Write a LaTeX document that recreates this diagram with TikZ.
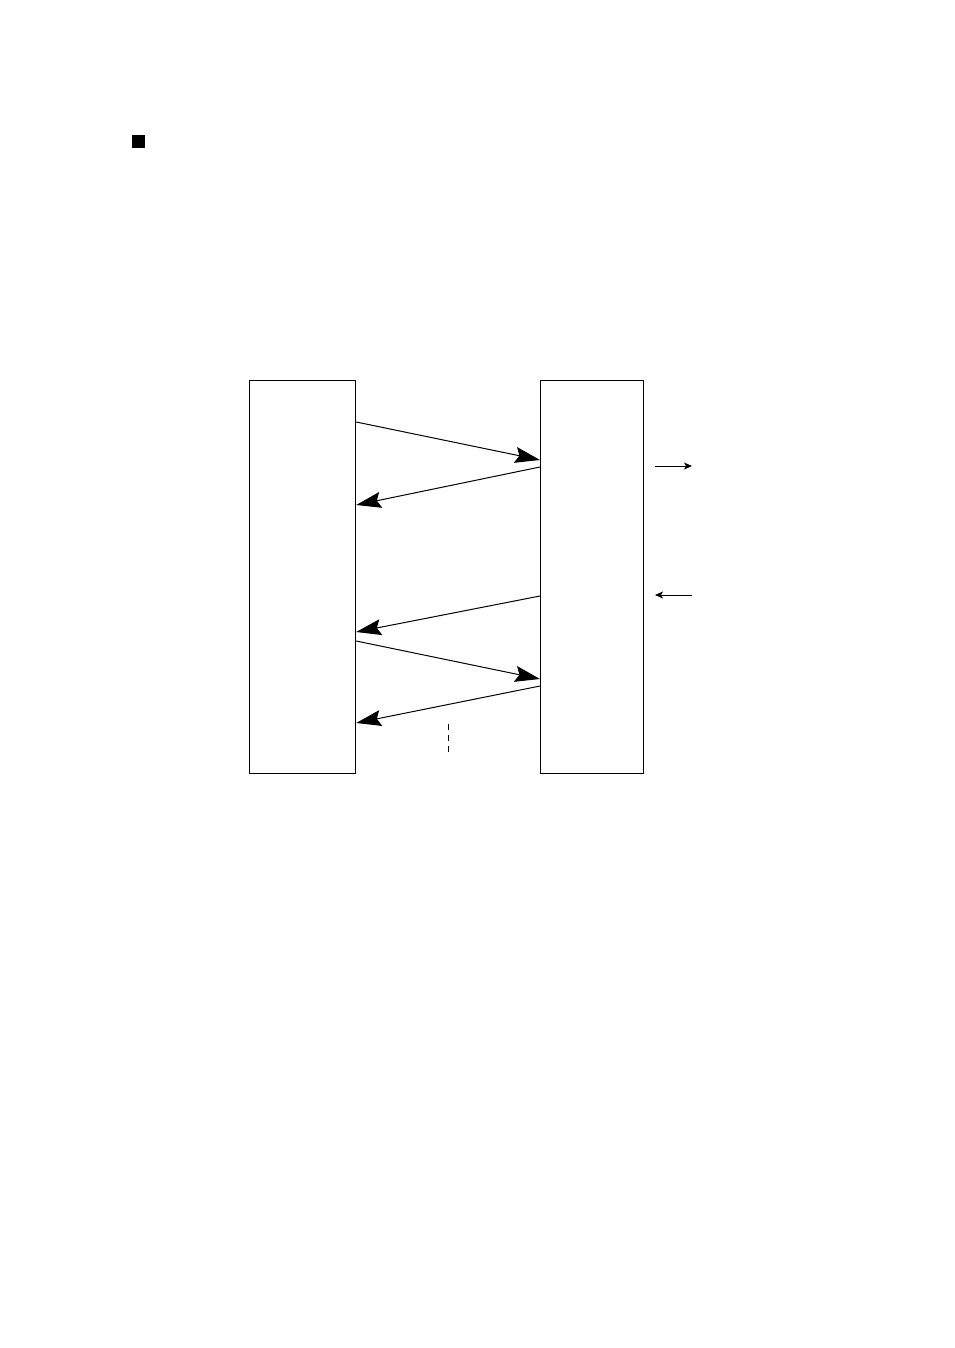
\documentclass[tikz,border=0pt]{standalone}
\usetikzlibrary{arrows.meta}
\begin{document}
\begin{tikzpicture}[x=1pt,y=-1pt,
  box/.style={draw,line width=1.2pt,minimum width=#1,inner sep=0pt,minimum height=393pt,anchor=north west},
  msg/.style={line width=1pt,-{Stealth[length=25pt,width=16pt,inset=4pt]}},
  side/.style={line width=1pt,-{Stealth[length=8pt,width=7pt,inset=2pt]}}]
\useasboundingbox (0,0) rectangle (954,1348);
\node[fill=black,minimum size=13pt,inner sep=0pt,anchor=north west] (sq) at (132,135) {};
\node[box=106pt] (L) at (249,380) {};
\node[box=103pt] (R) at (540,380) {};
\draw[msg] ([yshift=-42pt]L.north east) -- ([yshift=-80pt]R.north west);
\draw[msg] ([yshift=-87pt]R.north west) -- ([yshift=-125pt]L.north east);
\draw[msg] ([yshift=-216pt]R.north west) -- ([yshift=-252pt]L.north east);
\draw[msg] ([yshift=-261pt]L.north east) -- ([yshift=-299pt]R.north west);
\draw[msg] ([yshift=-306pt]R.north west) -- ([yshift=-343pt]L.north east);
\coordinate (d1) at (448,724);
\coordinate (d2) at (448,752);
\draw[line width=0.9pt,dash pattern=on 6pt off 5pt] (d1) -- (d2);
\coordinate (a1) at (655,466);
\coordinate (a2) at (692,466);
\coordinate (b1) at (692,595);
\coordinate (b2) at (655,595);
\draw[side] (a1) -- (a2);
\draw[side] (b1) -- (b2);
\end{tikzpicture}
\end{document}
